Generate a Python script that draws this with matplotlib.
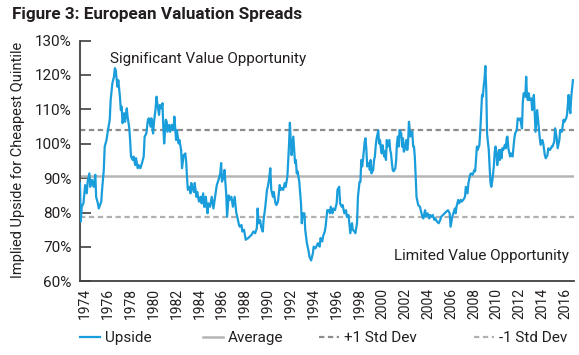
import matplotlib
matplotlib.use("Agg")
import matplotlib.pyplot as plt

# ---- data: decimal year and implied upside of the cheapest quintile (%) ----
years = [
    1973.56, 1973.63, 1973.71, 1973.86, 1974.01, 1974.15, 1974.23, 1974.38, 1974.45, 1974.60,
    1974.75, 1974.90, 1974.97, 1975.12, 1975.20, 1975.42, 1975.49, 1975.64, 1975.72, 1975.87,
    1976.01, 1976.16, 1976.24, 1976.39, 1976.53, 1976.61, 1976.68, 1976.83, 1976.91, 1977.05,
    1977.13, 1977.20, 1977.28, 1977.42, 1977.50, 1977.65, 1977.72, 1977.87, 1977.94, 1978.02,
    1978.17, 1978.24, 1978.39, 1978.46, 1978.61, 1978.69, 1978.84, 1978.98, 1979.13, 1979.21,
    1979.36, 1979.50, 1979.58, 1979.73, 1979.80, 1979.95, 1980.02, 1980.17, 1980.25, 1980.32,
    1980.47, 1980.55, 1980.69, 1980.77, 1980.84, 1980.92, 1981.06, 1981.14, 1981.21, 1981.36,
    1981.44, 1981.58, 1981.73, 1981.81, 1981.96, 1982.03, 1982.18, 1982.25, 1982.40, 1982.48,
    1982.62, 1982.77, 1982.85, 1982.92, 1982.99, 1983.14, 1983.22, 1983.29, 1983.37, 1983.52,
    1983.59, 1983.74, 1983.81, 1983.96, 1984.11, 1984.19, 1984.33, 1984.41,
    1984.48, 1984.56, 1984.71, 1984.78, 1984.93, 1985.08, 1985.23, 1985.37, 1985.52, 1985.67,
    1985.82, 1985.90, 1985.97, 1986.12, 1986.19, 1986.34, 1986.42, 1986.56, 1986.64, 1986.79,
    1986.93, 1987.08, 1987.23, 1987.31, 1987.46, 1987.53, 1987.68, 1987.75, 1987.90, 1988.05,
    1988.12, 1988.27, 1988.42, 1988.57, 1988.72, 1988.87, 1989.02, 1989.09, 1989.17, 1989.31,
    1989.39, 1989.54, 1989.61, 1989.76, 1989.91, 1989.98, 1990.06, 1990.20, 1990.28, 1990.43,
    1990.50, 1990.65, 1990.73, 1990.87, 1991.02, 1991.10, 1991.24, 1991.32, 1991.47, 1991.54,
    1991.69, 1991.76, 1991.84, 1991.91, 1991.99, 1992.06, 1992.21, 1992.36, 1992.43, 1992.51,
    1992.58, 1992.73, 1992.88, 1992.95, 1993.03, 1993.18, 1993.25, 1993.40, 1993.55, 1993.62,
    1993.77, 1993.92, 1993.99, 1994.14, 1994.22, 1994.36, 1994.51, 1994.59, 1994.74, 1994.81,
    1994.96, 1995.03, 1995.18, 1995.33,
    1995.41, 1995.48, 1995.63, 1995.70, 1995.85, 1996.00, 1996.07, 1996.22, 1996.30, 1996.44,
    1996.52, 1996.67, 1996.82, 1996.89, 1997.04, 1997.11, 1997.19, 1997.34, 1997.41, 1997.56,
    1997.63, 1997.78, 1997.86, 1998.00, 1998.08, 1998.15, 1998.23, 1998.30, 1998.45, 1998.52,
    1998.60, 1998.67, 1998.82, 1998.90, 1998.97, 1999.04, 1999.19, 1999.27, 1999.34, 1999.42,
    1999.49, 1999.64, 1999.71, 1999.79, 1999.86, 1999.94, 2000.01, 2000.16, 2000.23, 2000.31,
    2000.38, 2000.46, 2000.61, 2000.68, 2000.75, 2000.83, 2000.90, 2000.98, 2001.13, 2001.20,
    2001.27, 2001.35, 2001.42, 2001.50, 2001.65, 2001.72, 2001.80, 2001.87, 2001.94, 2002.09,
    2002.17, 2002.24, 2002.32, 2002.39, 2002.46, 2002.61, 2002.69, 2002.76, 2002.83, 2002.91,
    2002.98, 2003.13, 2003.28, 2003.35, 2003.50, 2003.58, 2003.73, 2003.80, 2003.95, 2004.10,
    2004.17, 2004.32, 2004.40, 2004.54, 2004.62, 2004.77, 2004.92, 2005.06, 2005.14, 2005.29,
    2005.44, 2005.59, 2005.73, 2005.88, 2005.96, 2006.11, 2006.25, 2006.33,
    2006.40, 2006.48, 2006.63, 2006.70, 2006.85, 2006.92, 2007.07, 2007.22, 2007.29, 2007.44,
    2007.52, 2007.67, 2007.74, 2007.89, 2008.04, 2008.11, 2008.26, 2008.33, 2008.48, 2008.56,
    2008.71, 2008.78, 2008.85, 2008.93, 2009.00, 2009.08, 2009.15, 2009.22, 2009.30, 2009.37,
    2009.45, 2009.52, 2009.60, 2009.74, 2009.82, 2009.89, 2009.97, 2010.04, 2010.19, 2010.27,
    2010.34, 2010.41, 2010.49, 2010.56, 2010.71, 2010.79, 2010.86, 2010.93, 2011.01, 2011.16,
    2011.23, 2011.38, 2011.53, 2011.60, 2011.75, 2011.83, 2011.98, 2012.05, 2012.20, 2012.27,
    2012.35, 2012.49, 2012.57, 2012.64, 2012.72, 2012.79, 2012.87, 2013.02, 2013.09, 2013.16,
    2013.24, 2013.31, 2013.39, 2013.53, 2013.61, 2013.68, 2013.76, 2013.83, 2013.98, 2014.06,
    2014.20, 2014.28, 2014.43, 2014.50, 2014.65, 2014.80, 2014.87, 2015.02, 2015.10, 2015.24,
    2015.32, 2015.47, 2015.54, 2015.69, 2015.84, 2015.91, 2016.06, 2016.14, 2016.28, 2016.36,
    2016.43, 2016.51, 2016.66,
]
upside = [
    88.6, 77.4, 81.7, 82.7, 88.0, 85.6, 89.0, 91.4, 87.5, 89.5, 87.5, 91.0, 84.6, 82.7, 81.2, 83.2, 86.6, 92.4, 99.2, 101.0,
    104.0, 107.0, 112.7, 117.6, 119.5, 122.0, 121.5, 116.6, 118.5, 113.7, 109.8, 110.8, 106.0, 108.9, 106.4, 110.3, 107.9, 104.5, 101.1, 96.3,
    95.3, 96.3, 93.8, 95.8, 92.9, 93.8, 92.9, 94.4, 96.3, 102.1, 103.0, 107.0, 107.4, 105.0, 107.4, 103.0, 106.0, 110.3, 113.7, 111.8,
    108.4, 111.3, 110.3, 111.8, 105.0, 100.1, 107.0, 106.4, 103.5, 105.5, 103.5, 105.5, 104.0, 107.9, 101.1, 104.0, 100.1, 101.1, 98.2, 92.9,
    96.7, 97.2, 94.4, 90.0, 86.6, 87.5, 85.6, 88.6, 87.5, 86.0, 88.6, 84.6, 86.0, 83.2, 84.6, 82.7, 85.6, 81.7,
    81.7, 84.6, 79.8, 82.7, 81.7, 84.6, 81.2, 84.6, 88.0, 89.5, 91.4, 94.4, 89.0, 90.4, 92.4, 85.6, 78.8, 85.0, 83.7, 84.6,
    81.7, 84.6, 79.8, 78.8, 76.4, 75.9, 76.4, 74.5, 75.0, 72.1, 72.3, 72.6, 73.1, 73.6, 74.5, 74.0, 75.5, 81.2, 76.9, 77.8,
    75.9, 74.5, 77.8, 81.7, 86.6, 87.5, 89.0, 92.9, 86.6, 84.6, 86.0, 82.7, 82.2, 83.2, 88.0, 86.6, 87.1, 86.6, 88.6, 87.5,
    90.4, 94.8, 100.1, 106.1, 100.6, 96.7, 102.1, 94.4, 95.3, 91.4, 92.0, 89.0, 82.7, 76.9, 79.8, 79.8, 75.0, 71.1, 68.7, 67.2,
    66.1, 68.2, 70.1, 69.6, 70.1, 71.1, 70.1, 72.6, 71.6, 73.1, 74.5, 75.9, 80.7, 80.7,
    79.8, 81.7, 79.8, 81.2, 80.7, 82.7, 86.6, 87.5, 82.7, 81.7, 82.2, 79.8, 80.7, 78.8, 79.3, 76.9, 74.0, 76.9, 75.0, 74.5,
    74.0, 76.9, 84.6, 88.9, 89.0, 95.3, 93.4, 95.3, 100.6, 101.6, 98.2, 93.4, 94.4, 92.4, 95.3, 91.4, 92.4, 95.3, 96.3, 99.6,
    101.5, 103.9, 100.1, 101.1, 98.7, 97.2, 99.6, 96.3, 97.8, 95.3, 101.1, 99.2, 101.1, 98.2, 97.2, 94.4, 92.4, 92.0, 92.9, 95.3,
    100.1, 102.1, 99.2, 104.0, 103.0, 99.2, 101.6, 97.7, 98.2, 101.1, 98.2, 100.1, 106.4, 104.0, 102.1, 103.5, 99.2, 99.2, 96.3, 90.5,
    84.6, 82.2, 81.7, 80.7, 78.8, 78.3, 80.7, 78.8, 79.8, 78.3, 79.3, 78.8, 79.3, 77.9, 78.3, 77.4, 76.9, 77.9, 78.8, 79.3,
    79.8, 80.3, 80.7, 79.8, 75.9, 78.8, 80.3, 81.2,
    79.8, 81.7, 83.7, 82.7, 83.7, 83.2, 83.7, 84.6, 87.5, 85.6, 88.6, 91.0, 91.4, 91.0, 92.4, 92.0, 99.2, 98.2, 99.7, 104.0,
    114.2, 113.7, 116.6, 119.0, 122.6, 115.6, 103.0, 100.6, 98.2, 93.4, 88.6, 87.5, 89.0, 93.4, 97.7, 99.2, 97.2, 93.8, 98.2, 95.3,
    98.2, 95.8, 98.7, 98.2, 99.7, 98.7, 101.6, 102.1, 98.7, 96.3, 97.2, 96.3, 101.4, 103.0, 104.0, 107.4, 107.0, 107.4, 104.5, 111.8,
    114.7, 113.7, 119.5, 113.7, 112.7, 114.7, 112.7, 113.2, 109.8, 111.2, 114.2, 108.9, 103.5, 109.8, 107.0, 104.5, 101.6, 99.7, 101.1, 100.1,
    96.7, 95.8, 96.7, 98.7, 98.2, 99.2, 99.2, 100.6, 104.5, 101.6, 98.7, 101.1, 104.0, 103.5, 107.0, 106.4, 107.4, 108.4, 114.2, 110.3,
    108.9, 113.7, 118.5,
]
assert len(years) == len(upside), (len(years), len(upside))

average = 90.7
plus_sd = 104.0
minus_sd = 78.6
tick_years = list(range(1974, 2017, 2))
y_ticks = [60, 70, 80, 90, 100, 110, 120, 130]

plt.rcParams['font.family'] = ['Roboto', 'DejaVu Sans']
TXT = '#231f20'

W, H = 579, 355
fig = plt.figure(figsize=(W / 100, H / 100), dpi=100)
ax = fig.add_axes([80 / W, 1 - 281.4 / H, (574 - 80) / W, (281.4 - 40.6) / H])

blue = '#1a9ddb'
l_up, = ax.plot(years, upside, color=blue, lw=1.6, zorder=4, solid_joinstyle='round')
l_avg = ax.axhline(average, color='#b5b5b5', lw=1.8, zorder=2)
l_p = ax.axhline(plus_sd, color='#8c8c8c', lw=1.6, ls=(0, (2.4, 1.6)), zorder=2)
l_m = ax.axhline(minus_sd, color='#b0b0b0', lw=1.6, ls=(0, (2.4, 1.6)), zorder=2)

ax.set_xlim(1973.56, 2016.75)
ax.set_ylim(60, 130)
ax.set_yticks(y_ticks)
ax.set_yticklabels([f'{v}%' for v in y_ticks])
ax.set_xticks(tick_years)
ax.set_xticklabels([str(y) for y in tick_years], rotation=90)

ax.tick_params(axis='y', direction='in', length=8, width=1.2, color='#404040',
               pad=6, labelsize=11, labelcolor=TXT)
ax.tick_params(axis='x', length=0, pad=5, labelsize=10, labelcolor=TXT)
for s in ['top', 'right']:
    ax.spines[s].set_visible(False)
for s in ['left', 'bottom']:
    ax.spines[s].set_color('#404040')
    ax.spines[s].set_linewidth(1.3)

ax.text(0.06, 0.925, 'Significant Value Opportunity', transform=ax.transAxes,
        fontsize=11, color=TXT, ha='left', va='center')
ax.text(0.99, 0.105, 'Limited Value Opportunity', transform=ax.transAxes,
        fontsize=11, color=TXT, ha='right', va='center')

fig.text(12 / W, 1 - 15 / H, 'Figure 3: European Valuation Spreads', fontsize=12.3,
         fontweight='bold', color=TXT, ha='left', va='center')
fig.text(18 / W, 1 - 160 / H, 'Implied Upside for Cheapest Quintile', fontsize=10.5,
         color=TXT, rotation=90, ha='center', va='center')

legend_items = [(l_up, 'Upside', 80), (l_avg, 'Average', 203),
                (l_p, '+1 Std Dev', 319), (l_m, '-1 Std Dev', 474)]
for handle, label, x0 in legend_items:
    fig.legend([handle], [label], loc='center left', bbox_to_anchor=(x0 / W, 1 - 338 / H),
               frameon=False, fontsize=11, handlelength=1.3, handletextpad=0.35,
               borderpad=0, borderaxespad=0, labelcolor=TXT)

fig.savefig('out.png', dpi=100)
